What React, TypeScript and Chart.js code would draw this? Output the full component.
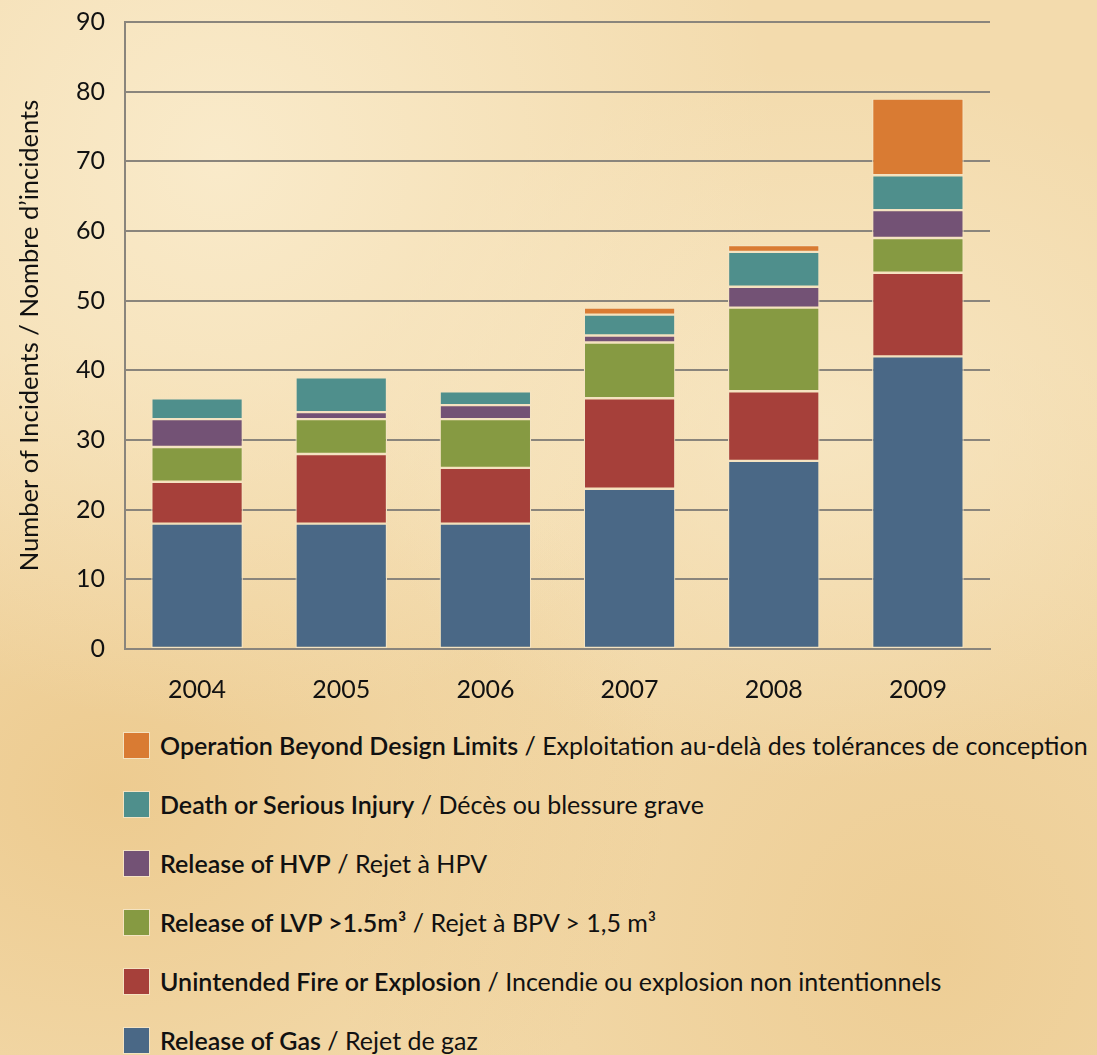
import React, { useEffect, useRef } from "react";
import { Chart, registerables } from "chart.js";

Chart.register(...registerables);

const years = ["2004", "2005", "2006", "2007", "2008", "2009"];
const releaseOfGas = [18, 18, 18, 23, 27, 42];
const fireExplosion = [6, 10, 8, 13, 10, 12];
const releaseLVP = [5, 5, 7, 8, 12, 5];
const releaseHVP = [4, 1, 2, 1, 3, 4];
const deathInjury = [3, 5, 2, 3, 5, 5];
const operationBeyond = [0, 0, 0, 1, 1, 11];
const yTicks = [0, 10, 20, 30, 40, 50, 60, 70, 80, 90];

const colors = {
  gas: "#4a6886",
  fire: "#a6403a",
  lvp: "#869a42",
  hvp: "#735275",
  death: "#4f8f8c",
  op: "#d97b33",
};

const legendItems = [
  { color: colors.op, en: "Operation Beyond Design Limits", fr: "Exploitation au-delà des tolérances de conception" },
  { color: colors.death, en: "Death or Serious Injury", fr: "Décès ou blessure grave" },
  { color: colors.hvp, en: "Release of HVP", fr: "Rejet à HPV" },
  { color: colors.lvp, en: "Release of LVP >1.5m³", fr: "Rejet à BPV > 1,5 m³" },
  { color: colors.fire, en: "Unintended Fire or Explosion", fr: "Incendie ou explosion non intentionnels" },
  { color: colors.gas, en: "Release of Gas", fr: "Rejet de gaz" },
];

const FONT = "Lato, 'Open Sans', sans-serif";

export default function App() {
  const ref = useRef<HTMLCanvasElement | null>(null);

  useEffect(() => {
    if (!ref.current) return;
    const mk = (label: string, data: number[], color: string) => ({
      label,
      data,
      backgroundColor: color,
      borderColor: "#f4e3c2",
      borderWidth: 1.2,
      borderSkipped: false as const,
      categoryPercentage: 1,
      barPercentage: 0.635,
    });
    const chart = new Chart(ref.current, {
      type: "bar",
      data: {
        labels: years,
        datasets: [
          mk("Release of Gas", releaseOfGas, colors.gas),
          mk("Unintended Fire or Explosion", fireExplosion, colors.fire),
          mk("Release of LVP", releaseLVP, colors.lvp),
          mk("Release of HVP", releaseHVP, colors.hvp),
          mk("Death or Serious Injury", deathInjury, colors.death),
          mk("Operation Beyond Design Limits", operationBeyond, colors.op),
        ],
      },
      options: {
        animation: false,
        responsive: false,
        maintainAspectRatio: false,
        layout: { padding: { top: 22, right: 107, bottom: 0, left: 0 } },
        plugins: { legend: { display: false }, tooltip: { enabled: false } },
        scales: {
          x: {
            stacked: true,
            grid: { display: false, drawTicks: false },
            border: { display: true, color: "#8a857c", width: 2 },
            ticks: { color: "#111", font: { family: FONT, size: 25 }, padding: 26 },
            afterFit: (s: any) => {
              s.height = 71;
              s.paddingLeft = 0;
              s.paddingRight = 0;
            },
          },
          y: {
            stacked: true,
            min: 0,
            max: 90,
            afterBuildTicks: (s: any) => {
              s.ticks = yTicks.map((v) => ({ value: v }));
            },
            grid: { color: "#8a857c", lineWidth: 2, drawTicks: false },
            border: { display: true, color: "#8a857c", width: 2 },
            ticks: { color: "#111", font: { family: FONT, size: 25 }, padding: 20 },
            title: {
              display: true,
              text: "Number of Incidents / Nombre d’incidents",
              color: "#111",
              font: { family: FONT, size: 25.5 },
              padding: { top: 14, bottom: 0 },
            },
            afterFit: (s: any) => {
              s.width = 125;
              s.paddingTop = 0;
              s.paddingBottom = 0;
            },
          },
        },
      },
    });
    return () => chart.destroy();
  }, []);

  return (
    <div
      style={{
        position: "absolute",
        left: 0,
        top: 0,
        width: 1097,
        height: 1055,
        overflow: "hidden",
        fontFamily: FONT,
        background:
          "radial-gradient(ellipse at 20% 15%, rgba(250,236,205,0.9), rgba(250,236,205,0) 45%)," +
          "radial-gradient(ellipse at 75% 40%, rgba(248,232,198,0.8), rgba(248,232,198,0) 40%)," +
          "radial-gradient(ellipse at 10% 75%, rgba(232,190,120,0.55), rgba(232,190,120,0) 40%)," +
          "radial-gradient(ellipse at 85% 90%, rgba(232,192,125,0.5), rgba(232,192,125,0) 45%)," +
          "#f3dbad",
      }}
    >
      <canvas ref={ref} width={1097} height={720} style={{ position: "absolute", left: 0, top: 0 }} />
      {legendItems.map((it, i) => (
        <div
          key={i}
          style={{
            position: "absolute",
            left: 124,
            top: 732 + i * 59,
            height: 26,
            display: "flex",
            alignItems: "center",
            whiteSpace: "nowrap",
            fontSize: 25,
            color: "#111",
          }}
        >
          <span
            style={{
              display: "inline-block",
              width: 25,
              height: 25,
              background: it.color,
              marginRight: 11,
              boxShadow: "0 0 0 1px #f4e3c2",
            }}
          />
          <span style={{ fontWeight: 600 }}>{it.en}</span>
          <span>&nbsp;/&nbsp;{it.fr}</span>
        </div>
      ))}
    </div>
  );
}
